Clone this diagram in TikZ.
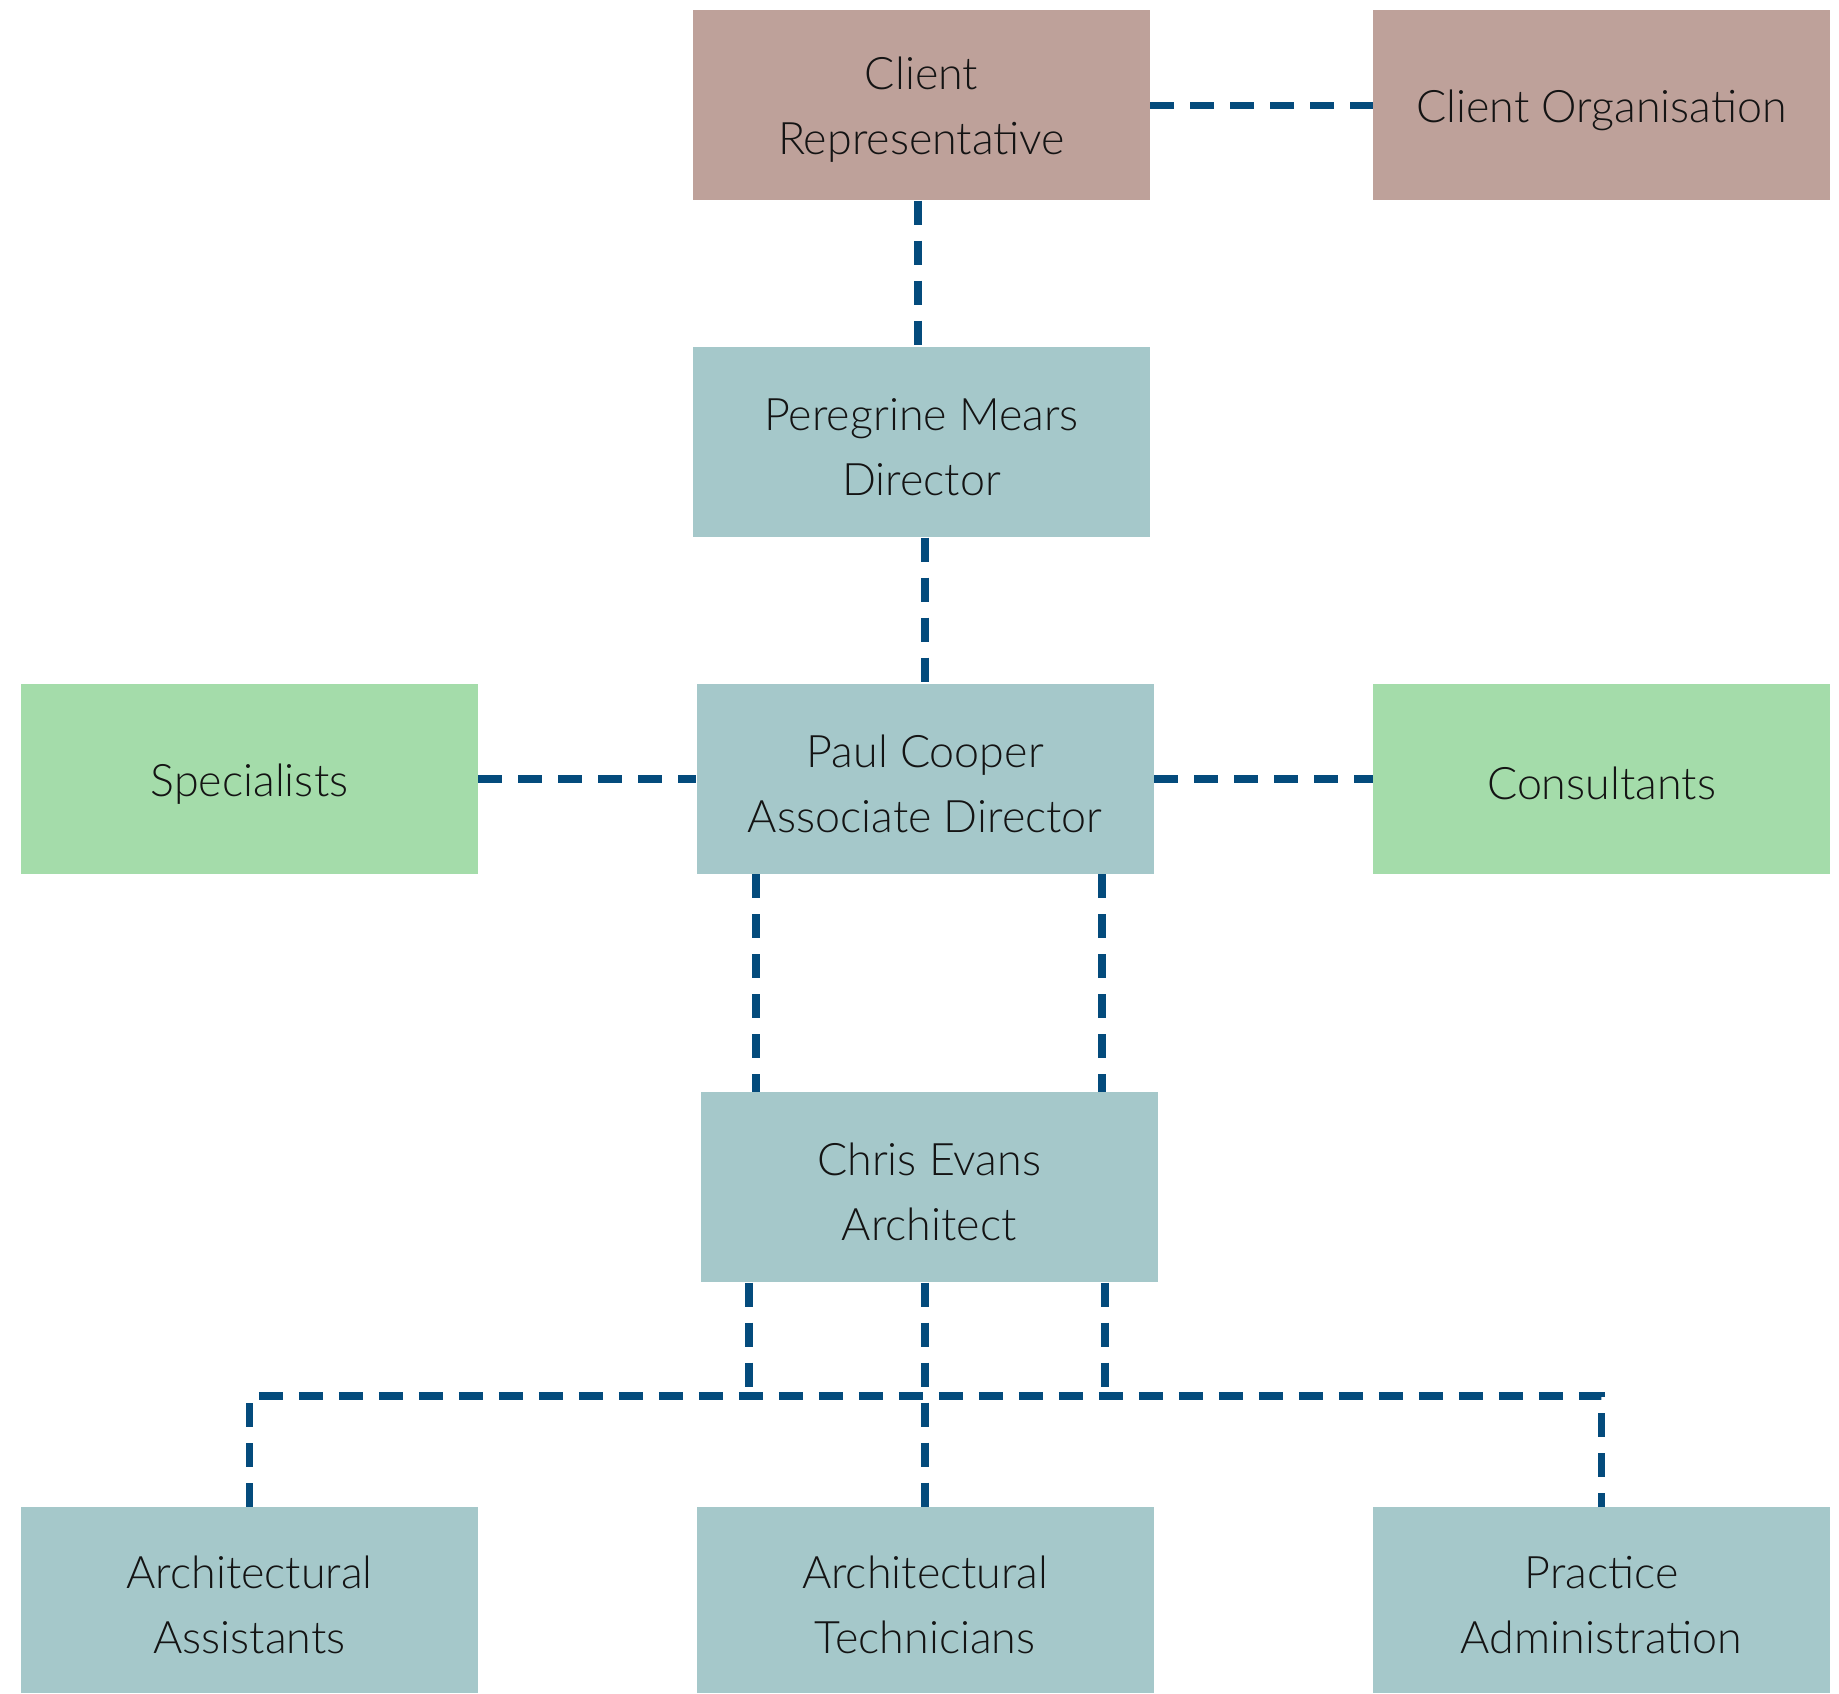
\documentclass[tikz,border=0pt]{standalone}
\usepackage{fontspec}
\setmainfont{Lato Light}
\definecolor{clientc}{HTML}{BEA19A}
\definecolor{staffc}{HTML}{A5C8CA}
\definecolor{extc}{HTML}{A4DCAA}
\definecolor{linec}{HTML}{044B7C}
\definecolor{textc}{HTML}{141414}
\begin{document}
\begin{tikzpicture}[x=0.5pt,y=-0.5pt,
  box/.style={rectangle, minimum width=228.5pt, minimum height=95pt, inner sep=0pt},
  lbl/.style={inner sep=0pt, align=center, font=\fontsize{22.4}{32.5}\selectfont, text=textc},
  clientbox/.style={box, fill=clientc},
  staffbox/.style={box, fill=staffc},
  extbox/.style={box, fill=extc},
  lowbox/.style={staffbox, minimum height=93pt},
  conn/.style={draw=linec, line width=3.8pt, dash pattern=on 12pt off 8pt}]
\useasboundingbox (0,0) rectangle (1839,1693);
\node[clientbox] (crep) at (921.5,105.3) {};
\node[clientbox] (corg) at (1601.5,105.3) {};
\node[staffbox] (per) at (921.5,442.3) {};
\node[staffbox] (paul) at (925.2,779) {};
\node[extbox] (spec) at (249.5,779) {};
\node[extbox] (cons) at (1601.5,779) {};
\node[staffbox] (chris) at (929.2,1187.2) {};
\node[lowbox] (aa) at (249.5,1600) {};
\node[lowbox] (at) at (925.2,1600) {};
\node[lowbox] (pa) at (1601.5,1600) {};
\node[lbl] (crep-t) at ([yshift=-2.4pt]crep.center) {Client\\Representative};
\node[lbl] (corg-t) at ([yshift=-2.4pt]corg.center) {Client Organisation};
\node[lbl] (per-t) at ([yshift=-2.4pt]per.center) {Peregrine Mears\\Director};
\node[lbl] (paul-t) at ([yshift=-2.4pt]paul.center) {Paul Cooper\\Associate Director};
\node[lbl] (spec-t) at ([yshift=-2.4pt]spec.center) {Specialists};
\node[lbl] (cons-t) at ([yshift=-2.4pt]cons.center) {Consultants};
\node[lbl] (chris-t) at ([yshift=-2.4pt]chris.center) {Chris Evans\\Architect};
\node[lbl] (aa-t) at ([yshift=-2.4pt]aa.center) {Architectural\\Assistants};
\node[lbl] (at-t) at ([yshift=-2.4pt]at.center) {Architectural\\Technicians};
\node[lbl] (pa-t) at ([yshift=-2.4pt]pa.center) {Practice\\Administration};
\coordinate (bus) at (0,1396);
\draw[conn] ([xshift=-1.9pt]crep.south) -- ([xshift=-1.9pt]crep.south |- per.north);
\draw[conn] (crep.east) -- (corg.west);
\draw[conn] (paul.north |- per.south) -- (paul.north);
\draw[conn] (spec.east) -- (paul.west);
\draw[conn] (paul.east) -- (cons.west);
\draw[conn] ([xshift=-84.5pt]paul.south) -- ([xshift=-84.5pt]paul.south |- chris.north);
\draw[conn] ([xshift=88.25pt]paul.south) -- ([xshift=88.25pt]paul.south |- chris.north);
\draw[conn] ([xshift=-90.25pt]chris.south) -- ([xshift=-90.25pt]chris.south |- bus);
\draw[conn] ([xshift=88pt]chris.south) -- ([xshift=88pt]chris.south |- bus);
\draw[conn] (at.north |- chris.south) -- (at.north);
\draw[conn] (aa.north) -- (aa.north |- bus) -- (pa.north |- bus) -- (pa.north);
\end{tikzpicture}
\end{document}
